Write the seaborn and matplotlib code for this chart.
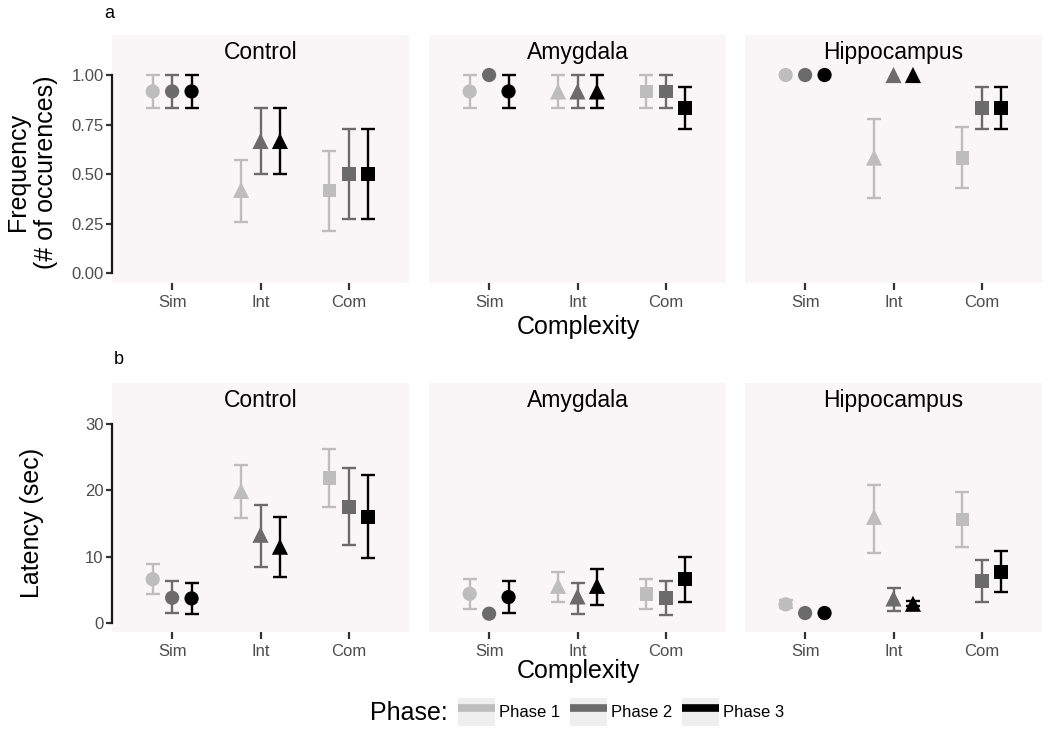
import pandas as pd
import matplotlib
matplotlib.use("Agg")
import matplotlib.pyplot as plt
import seaborn as sns
from matplotlib.lines import Line2D
from matplotlib.patches import Rectangle
from matplotlib.legend_handler import HandlerTuple

regions = ["Control", "Amygdala", "Hippocampus"]
complexity = ["Sim", "Int", "Com"]
phases = ["Phase 1", "Phase 2", "Phase 3"]
phase_colors = ["#BDBDBD", "#6B6B6B", "#000000"]

# order of every list: Sim P1,P2,P3 | Int P1,P2,P3 | Com P1,P2,P3
freq_control = [0.917, 0.917, 0.917, 0.42, 0.667, 0.667, 0.417, 0.5, 0.5]
freq_control_lo = [0.833, 0.833, 0.833, 0.26, 0.5, 0.5, 0.215, 0.275, 0.275]
freq_control_hi = [1.0, 1.0, 1.0, 0.57, 0.833, 0.833, 0.617, 0.725, 0.725]

freq_amygdala = [0.917, 1.0, 0.917, 0.917, 0.917, 0.917, 0.917, 0.917, 0.833]
freq_amygdala_lo = [0.833, 1.0, 0.833, 0.833, 0.833, 0.833, 0.833, 0.833, 0.727]
freq_amygdala_hi = [1.0, 1.0, 1.0, 1.0, 1.0, 1.0, 1.0, 1.0, 0.94]

freq_hippo = [1.0, 1.0, 1.0, 0.583, 1.0, 1.0, 0.583, 0.833, 0.833]
freq_hippo_lo = [1.0, 1.0, 1.0, 0.38, 1.0, 1.0, 0.43, 0.727, 0.727]
freq_hippo_hi = [1.0, 1.0, 1.0, 0.78, 1.0, 1.0, 0.737, 0.94, 0.94]

lat_control = [6.6, 3.8, 3.7, 19.9, 13.3, 11.5, 21.9, 17.5, 16.0]
lat_control_lo = [4.3, 1.45, 1.3, 15.9, 8.5, 6.9, 17.5, 11.7, 9.75]
lat_control_hi = [8.9, 6.3, 6.1, 23.8, 17.8, 16.0, 26.3, 23.4, 22.3]

lat_amygdala = [4.4, 1.4, 3.9, 5.6, 4.0, 5.6, 4.4, 3.7, 6.6]
lat_amygdala_lo = [2.1, 1.4, 1.45, 3.1, 1.3, 2.7, 2.1, 1.2, 3.2]
lat_amygdala_hi = [6.7, 1.4, 6.3, 7.7, 6.1, 8.1, 6.7, 6.3, 10.0]

lat_hippo = [2.8, 1.5, 1.5, 16.0, 3.7, 2.9, 15.6, 6.3, 7.7]
lat_hippo_lo = [2.2, 1.5, 1.5, 10.5, 1.8, 2.5, 11.5, 3.1, 4.7]
lat_hippo_hi = [3.4, 1.5, 1.5, 20.8, 5.2, 3.3, 19.8, 9.5, 10.9]

series = {
    ("freq", "Control"): (freq_control, freq_control_lo, freq_control_hi),
    ("freq", "Amygdala"): (freq_amygdala, freq_amygdala_lo, freq_amygdala_hi),
    ("freq", "Hippocampus"): (freq_hippo, freq_hippo_lo, freq_hippo_hi),
    ("lat", "Control"): (lat_control, lat_control_lo, lat_control_hi),
    ("lat", "Amygdala"): (lat_amygdala, lat_amygdala_lo, lat_amygdala_hi),
    ("lat", "Hippocampus"): (lat_hippo, lat_hippo_lo, lat_hippo_hi),
}

rows = []
for (measure, region), (vals, lo, hi) in series.items():
    for i, v in enumerate(vals):
        rows.append({"measure": measure, "region": region,
                     "complexity": complexity[i // 3], "phase": phases[i % 3],
                     "value": v, "lo": lo[i], "hi": hi[i]})
df = pd.DataFrame(rows)

sns.set_theme(style="white")
plt.rcParams["font.family"] = ["Liberation Sans", "DejaVu Sans"]
plt.rcParams["text.color"] = "black"

W, H = 1050, 738
fig = plt.figure(figsize=(W / 100, H / 100), dpi=100)

panel_left = [112, 429, 745]
panel_w = 297
rows_px = {"freq": (35, 283), "lat": (383, 632)}
ylims = {"freq": (-0.05, 1.202), "lat": (-1.36, 36.18)}
yticks = {"freq": [0, 0.25, 0.5, 0.75, 1.0], "lat": [0, 10, 20, 30]}
yticklabels = {"freq": ["0.00", "0.25", "0.50", "0.75", "1.00"], "lat": ["0", "10", "20", "30"]}

cx = {c: i for i, c in enumerate(complexity)}
dodge = {p: d for p, d in zip(phases, [-0.22, 0.0, 0.22])}
pal = dict(zip(phases, phase_colors))
markers = {"Sim": "o", "Int": "^", "Com": "s"}
sizes = {"Sim": 105, "Int": 135, "Com": 100}

for measure in ["freq", "lat"]:
    top, bot = rows_px[measure]
    for j, region in enumerate(regions):
        ax = fig.add_axes([panel_left[j] / W, 1 - bot / H, panel_w / W, (bot - top) / H])
        ax.set_facecolor("#F8F6F7")
        sub = df[(df.measure == measure) & (df.region == region)].copy()
        sub["x"] = sub.complexity.map(cx) + sub.phase.map(dodge)
        for ph in phases:
            g = sub[(sub.phase == ph) & (sub.hi > sub.lo)]
            ax.errorbar(g.x, g.value, yerr=[g.value - g.lo, g.hi - g.value], fmt="none",
                        ecolor=pal[ph], elinewidth=1.7, capsize=5, capthick=1.7, zorder=2)
        sns.scatterplot(data=sub, x="x", y="value", hue="phase", style="complexity",
                        size="complexity", sizes=sizes, markers=markers, palette=pal,
                        linewidth=0, legend=False, ax=ax, zorder=3)
        ax.set_xlim(-0.68, 2.68)
        ax.set_ylim(*ylims[measure])
        ax.set_xticks([0, 1, 2], complexity)
        ax.set_xlabel("")
        ax.set_ylabel("")
        for s in ["top", "right", "bottom"]:
            ax.spines[s].set_visible(False)
        ax.tick_params(axis="x", bottom=True, length=5, width=1.6, color="#333333",
                       labelsize=12, labelcolor="#4D4D4D", pad=4)
        if j == 0:
            ax.spines["left"].set_bounds(yticks[measure][0], yticks[measure][-1])
            ax.spines["left"].set_linewidth(1.6)
            ax.spines["left"].set_color("#1A1A1A")
            ax.set_yticks(yticks[measure], yticklabels[measure])
            ax.tick_params(axis="y", left=True, length=4, width=1.6, color="#333333",
                           labelsize=12, labelcolor="#4D4D4D", pad=2)
        else:
            ax.spines["left"].set_visible(False)
            ax.set_yticks([])
        ax.text(0.5, 0.93, region, transform=ax.transAxes, ha="center", va="center",
                fontsize=16.5, color="black")

fig.text(109 / W, 1 - 13 / H, "a", ha="center", va="center", fontsize=13)
fig.text(119 / W, 1 - 360 / H, "b", ha="center", va="center", fontsize=13)
fig.text(32 / W, 1 - 172 / H, "Frequency\n(# of occurences)", rotation=90,
         ha="center", va="center", fontsize=18, linespacing=1.25)
fig.text(32 / W, 1 - 523 / H, "Latency (sec)", rotation=90, ha="center", va="center", fontsize=18)
fig.text(578 / W, 1 - 327 / H, "Complexity", ha="center", va="center", fontsize=18)
fig.text(578 / W, 1 - 671 / H, "Complexity", ha="center", va="center", fontsize=18)

fig.text(370 / W, 1 - 713 / H, "Phase:", ha="left", va="center", fontsize=18)
handles = [(Rectangle((0, 0), 1, 1, facecolor="#EFEFEF", edgecolor="none"),
            Line2D([], [], color=c, lw=5.5, solid_capstyle="butt")) for c in phase_colors]
fig.legend(handles, phases, loc="center left", bbox_to_anchor=(458 / W, 1 - 712 / H),
           ncol=3, frameon=False, handler_map={tuple: HandlerTuple(ndivide=1, pad=0)},
           handlelength=2.2, handleheight=2.2, handletextpad=0.25, columnspacing=0.6,
           borderpad=0, borderaxespad=0, fontsize=12, labelcolor="black")

fig.savefig("out.png", dpi=100)
